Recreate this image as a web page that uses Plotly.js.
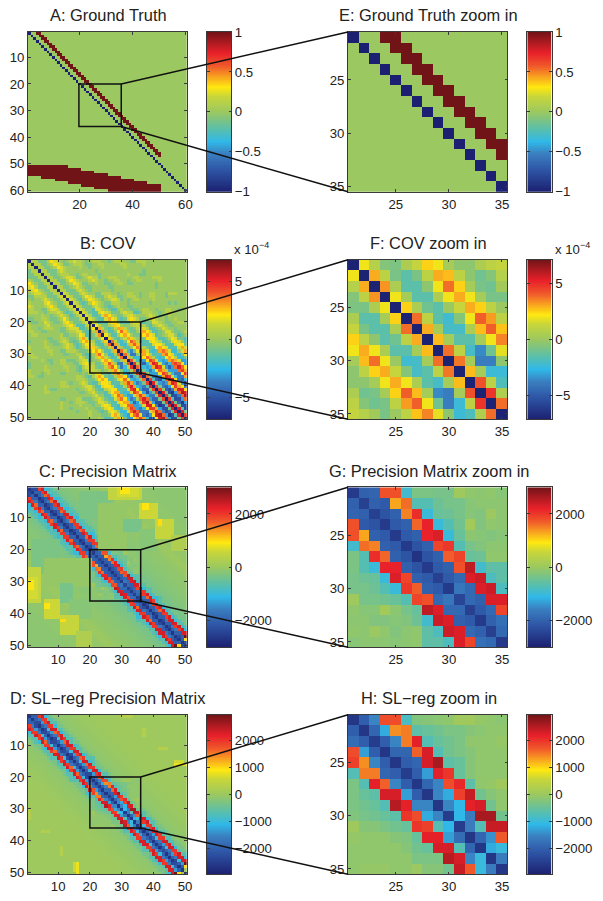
<!DOCTYPE html>
<html><head><meta charset="utf-8">
<script src="https://cdn.plot.ly/plotly-3.0.1.min.js"></script>
<style>html,body{margin:0;padding:0;background:#fff}#g{width:603px;height:901px}.hm image{filter:blur(.5px)}</style>
</head><body><div id="g"></div>
<script>
// ---------- Ground truth (panel A / E) ----------
const gtSize = 60;
const gtBandLastRow = 47;          // upper band: cols row+3 and row+4, up to col 50
const gtBlockColFirst = [1,6,11,16,21,26,31,36,41,46];
const gtBlockColLast  = [5,10,15,20,25,30,35,40,45,50];
const gtBlockRowTop   = [51,51,51,52,53,54,55,56,57,58];
const gtBlockRowBot   = [54,55,56,57,58,59,60,60,60,60];

// ---------- Zoomed windows, rows/cols 21..35 ----------
const covZoom = [ // units of 1e-4
[-7,2,.8,-.5,-.7,.5,1.2,2.5,2,.3,-.3,-.3,.5,1,1.2],
[2,-7,3,1,-.8,-1.5,-.8,1,3,2.8,1,-.3,-1,-.5,.8],
[.8,3,-7,3.3,.5,-1.5,-1.5,-.3,2,3.8,2.5,.3,-.8,-1,.2],
[-.5,1,3.3,-7,2,.3,-1.5,-1.5,.5,2,3,2,.3,-.8,-.8],
[-.7,-.8,.5,2,-7,2.5,.5,-1,-1.5,0,1.3,3,2.5,1,0],
[.5,-1.5,-1.5,.3,2.5,-7,3.8,1,-1.5,-2.2,-.5,2,4,3.2,1],
[1.2,-.8,-1.5,-1.5,.5,3.8,-7,3,.3,-2,-2,.5,2.8,4,2.7],
[2.5,1,-.3,-1.5,-1,1,3,-7,2.8,.3,-1.5,-1.5,.3,2,3.5],
[2,3,2,.5,-1.5,-1.5,.3,2.8,-7,3.8,1,-2,-3.5,-1,1.8],
[.3,2.8,3.8,2,0,-2.2,-2,.3,3.8,-7,3.7,.3,-3.8,-3.8,-.3],
[-.3,1,2.5,3,1.3,-.5,-2,-1.5,1,3.7,-7,2.8,.3,-2.3,-2.3],
[-.3,-.3,.3,2,3,2,.5,-1.5,-2,.3,2.8,-7,4.2,1,-1.8],
[.5,-1,-.8,.3,2.5,4,2.8,.3,-3.5,-3.8,.3,4.2,-7,4.8,.6],
[1,-.5,-1,-.8,1,3.2,4,2,-1,-3.8,-2.3,1,4.8,-7,3.8],
[1.2,.8,.2,-.8,0,1,2.7,3.5,1.8,-.3,-2.3,-1.8,.6,3.8,-7]];
const precZoom = [
[-2600,-2000,-1950,1800,1800,-900,-300,-300,-350,-350,50,-100,-150,-100,-200],
[-2000,-2500,-2000,-2100,1300,1600,-700,-700,-450,-350,-350,-200,-150,-150,-150],
[-1950,-2000,-2500,-2200,-2000,1500,2100,-1000,-500,-450,-350,-200,-250,0,-150],
[1800,-2100,-2200,-2600,-2100,-2000,1650,2200,-1000,-700,-400,100,-250,-100,-150],
[1800,1300,-2000,-2100,-2600,-2100,-2000,2200,2300,-1000,-500,-150,-200,-250,-200],
[-900,1600,1500,-2000,-2100,-2600,-2200,-2000,1900,2000,-700,-350,-250,-150,-150],
[-300,-700,2100,1650,-2000,-2200,-2700,-2200,-2000,1700,1900,-500,-450,-100,-100],
[-300,-700,-1000,2200,2200,-2000,-2200,-2600,-2100,-2000,1800,2500,-900,-600,-600],
[-350,-450,-500,-1000,2300,1900,-2000,-2100,-2500,-2100,-1900,2300,2400,-800,-600],
[-350,-350,-450,-700,-1000,2000,1700,-2000,-2100,-2600,-1700,-1900,2300,2400,-800],
[50,-350,-350,-400,-500,-700,1900,1800,-1900,-1700,-2400,-1900,-2000,2300,2300],
[-100,-200,-200,100,-150,-350,-500,2500,2300,-1900,-1900,-2500,-2100,-1900,1900],
[-150,-150,-250,-250,-200,-250,-450,-900,2400,2300,-2000,-2100,-2600,-2000,-1800],
[-100,-150,0,-100,-250,-150,-100,-600,-800,2400,2300,-1900,-2000,-2500,-1900],
[-200,-150,-150,-150,-200,-150,-100,-600,-600,-800,2300,1900,-1800,-1900,-2600]];
const slZoom = [
[-2600,-2000,-1500,1800,1800,-800,-250,-200,-150,-100,50,50,-50,-100,-150],
[-2000,-2600,-1900,-1200,1400,1500,-600,-500,-400,-300,-300,-200,-150,-100,-100],
[-1800,-2000,-2500,-2000,-1500,1500,2200,-700,-500,-400,-300,-100,-100,-100,-50],
[1800,-1300,-2000,-2600,-1900,-1900,1650,2300,-700,-400,-300,-200,-100,-100,-100],
[1900,1400,-1500,-2000,-2600,-2000,-1900,2300,2600,-600,-500,-200,-100,-100,-100],
[-700,1500,1500,-1900,-2000,-2500,-2000,-1300,2200,2000,-500,-200,-100,-100,-100],
[-300,-700,2200,1650,-1500,-2000,-2600,-1900,-1500,1800,2100,-600,-100,-50,50],
[-300,-500,-600,2300,2300,-1300,-2000,-2600,-1500,-1200,1900,2400,-400,-200,-100],
[-300,-400,-500,-700,2500,2200,-1500,-1500,-2600,-1500,-1100,2200,2300,-400,-100],
[-250,-350,-400,-500,-600,2000,1800,-1200,-1500,-2500,-1100,-1600,2600,2600,-400],
[50,-200,-200,-300,-400,-500,2000,1900,-700,-1100,-2500,-1600,-700,2400,2400],
[-50,-100,-100,-100,-200,-250,-500,2200,2200,-1300,-1800,-2600,-1900,-1400,1700],
[-100,-100,-100,-100,-100,-200,-400,-500,2300,2300,-700,-1900,-2600,-1200,-1000],
[-100,-100,-100,-100,-100,-100,-300,-300,-300,2500,2300,-1500,-1000,-2600,-1600],
[-100,-50,-50,-50,-100,-100,0,-200,-200,-400,2400,1700,-1000,-1600,-2600]];

// ---------- Full 50x50 matrices, upper triangle read diagonal by diagonal ----------
// digit n = +n levels, letter a..i = -1..-9 levels; index in the list = offset from the main diagonal
const covLevelUnit = 0.75;
const covDiagonals = [
"iiiiiiiiii iiiiiiiiii iiiiiiiiii iiiiiiiiii iiiiiiiiii",
"1111111111 2222222222 3443354455 4665665676 676677776",
"1111111111 1111111111 1111001000 0000a0ab0a 0aabaaba",
"aaaaaaaaaa aaaaaaabab aabbbbbbcb cdcccdefde fgggfgg",
"aaaaaaaaaa aabbaabbbb bbbccccccc defdedfgef ghgghg",
"a00a00a00a aa0aabbabb bbbbbbbcbb cdcccddcdd ededd",
"1111111111 1111122222 2233223332 3344334543 4555",
"3332123322 2333223443 3455445654 5677567876 788",
"2221122211 1222112333 3444334443 4566456764 77",
"1110011100 0111001121 0111001121 1222112323 3",
"0a000a0aaa 0a00aaa0ab aaaaabbabb bcdddccede",
"aa00aa0aa0 aaaabbaabb bbbaabbbcb cdefdeefg",
"0000000000 aa0aabaaab aabaabbbbb bccddeec",
"1100111000 1111001121 1233322344 3455534",
"2110122100 1221112232 2344333455 456766",
"1100011000 1121001222 1233323343 34554",
"1000010000 0110001111 1112111222 1233",
"0aa00a0aaa 0aa0aab0ab abbbbbbbcb cdd",
"aa0aa0aaa0 aa0aaab0aa bbbabbbbcc cd",
"0000000000 00a00aa00a 0aa0aabb0a a",
"1000010000 0100001112 1001122223",
"1110011100 1110011222 222233344",
"1100011100 1110011111 11222232",
"0000000000 0000000000 0000a0a",
"0000000a00 0a00000a0a a0abab",
"a00000aa00 a00a0aa0aa aaaab",
"0000000000 0000000a00 0000",
"1000100000 0110001100 001",
"1110011000 1100011011 00",
"1100011000 1000011001 0",
"0000000000 0000000000",
"0000a00000 000a00000",
"a000a000a0 0a000a00",
"a00a000a00 a00a000",
"1000010000 100000",
"1100011000 10000",
"1000010000 1000",
"0000000000 000"];

const precLevelUnit = 333;
const precDiagonals = [
"hhhhhhhhhh hhhhhhhhhh hhhhhhhhhh hhhhhhhhhh hhhhhhhhhh",
"gffgfgfgfg fgfgffgfgf gffgfgfgfg fgffgfgffg fgfgffgfg",
"gfefefefef efefffefef feffefefff efefefefef fefeeff3",
"6657566576 5665756657 6657666676 7566576656 6776679",
"7766776677 6676676677 7776677766 7767767776 777777",
"cbccbccbcc bccbccbccc bccccccbcc bcbcccbccb ccbcc",
"cbbcbbcbbc bbbbcbbbbb bbbbbbbbbb bbbbcbbbbb bbbb",
"bbbbbbbbbb bbbbabbaba aaaaaaaaaa abaabaaaaa aaa"];
const precFarByOffset = [-350,-300,-250,-250,-200,-200,-200,-150,-150,-150,-100,-100,-100,-50,-50,0,0,0,-50,-50,-50,-80,-100,-100,-100,-100,-100,-100,-100,-150,-150,-150,-150,-150,-150,-150,-150,-150,-150,-150,-150,-150];
const precBlockRow0 = [2,6,11,14,1,1,1,1,6,6,11,11,16];
const precBlockRow1 = [10,20,14,20,2,4,3,2,10,7,16,12,20];
const precBlockCol0 = [17,23,31,36,40,26,29,30,36,37,41,42,46];
const precBlockCol1 = [27,31,36,41,50,36,35,32,41,38,46,42,50];
const precBlockVal  = [-300,-60,-350,-200,-150,500,650,900,600,950,550,1000,250];

const slLevelUnit = 328;
const slDiagonals = [
"hhghhghhgh hghhhghhgh hhhghhhghh ghhhghhhgh hhghhhghhh",
"ffgfgffgff gfgfffffgf ffffffffff efffffffff fffffgff",
"fedecdecde ecdecdecde cdecdecdee cedecdedce dcedecd3",
"6666756757 6765756765 7765676667 7676667767 6766779",
"7676767677 6776776777 7777777777 7677677667 776777",
"cbbcbcbbbc bbcbcbbcbc bbbbccbbbb cbcbbcbbbb ccbbc",
"bbbabbbbab babbbaaabb aaaaaaaaaa babbaababb aaab",
"aaaaaaaaaa aaabaaaaaa aaaaaaaaaa aaaaaaaaaa aaa"];
const slFarByOffset = [-150,-100,-100,-80,-50,-50,-30,-30,0,0,0,30,30,30,30,50,50,50,50,50,50,50,50,50,50,50,30,30,30,30,30,30,30,30,30,30,30,30,30,30,30,30];
const slBlockRow0 = [15,16,1,5,11,16,6];
const slBlockRow1 = [16,16,1,7,11,16,6];
const slBlockCol0 = [47,47,30,37,42,47,37];
const slBlockCol1 = [49,50,33,37,44,47,37];
const slBlockVal  = [600,800,300,300,300,800,250];

// ---------- Colour scale ----------
const scaleStops  = [0,.146,.24,.314,.397,.5,.596,.655,.722,.785,.868,.94,1];
const scaleColors = ['#1c2070','#2f58a8','#3a80c0','#30b8e8','#5cbfa8','#9bc860','#c8d63a','#ffe810','#f8a020','#f05a2a','#e8202a','#a81a20','#701418'];

// ---------- Text ----------
const panelTitles = ['A: Ground Truth','E: Ground Truth zoom in','B: COV','F: COV zoom in','C: Precision Matrix','G: Precision Matrix zoom in','D: SL\u2212reg Precision Matrix','H: SL\u2212reg zoom in'];
const barTicksAE = [-1,-.5,0,.5,1];
const barTicksCov = [-5,0,5];
const barTicksPrec = [-2000,0,2000];
const barTicksSl = [-2000,-1000,0,1000,2000];
const bigTicks60y = [10,20,30,40,50,60], bigTicks60x = [20,40,60];
const bigTicks50 = [10,20,30,40,50], zoomTicks = [25,30,35];

// ---------- Build matrices ----------
function groundTruth(){
  const m=[];for(let r=0;r<gtSize;r++)m.push(new Array(gtSize).fill(0));
  for(let i=1;i<=gtSize;i++)m[i-1][i-1]=-1;
  for(let r=1;r<=gtBandLastRow;r++)[r+3,r+4].forEach(c=>{if(c<=50)m[r-1][c-1]=1;});
  gtBlockColFirst.forEach((c0,k)=>{for(let c=c0;c<=gtBlockColLast[k];c++)for(let r=gtBlockRowTop[k];r<=gtBlockRowBot[k];r++)m[r-1][c-1]=1;});
  return m;
}
function lvl(ch,unit){
  if(ch>='0'&&ch<='9')return (+ch)*unit;
  return -(ch.charCodeAt(0)-96)*unit;
}
function fromDiagonals(diags,unit,far,blocks,zoom){
  const n=50,m=[];for(let r=0;r<n;r++)m.push(new Array(n).fill(0));
  for(let d=0;d<n;d++){
    const s=d<diags.length?diags[d].replace(/ /g,''):'';
    for(let r=0;r+d<n;r++){
      let v;
      if(d<diags.length) v=lvl(s[r]||'0',unit);
      else v=far?far[d-diags.length]:0;
      m[r][r+d]=v;m[r+d][r]=v;
    }
  }
  if(blocks)blocks.val.forEach((v,k)=>{
    for(let r=blocks.r0[k];r<=blocks.r1[k];r++)for(let c=blocks.c0[k];c<=blocks.c1[k];c++){m[r-1][c-1]=v;m[c-1][r-1]=v;}
  });
  for(let r=0;r<15;r++)for(let c=0;c<15;c++)m[20+r][20+c]=zoom[r][c];
  return m;
}
const gtFull=groundTruth();
const gtZoom=gtFull.slice(20,35).map(r=>r.slice(20,35));
const covFull=fromDiagonals(covDiagonals,covLevelUnit,null,null,covZoom);
const precFull=fromDiagonals(precDiagonals,precLevelUnit,precFarByOffset,{r0:precBlockRow0,r1:precBlockRow1,c0:precBlockCol0,c1:precBlockCol1,val:precBlockVal},precZoom);
const slFull=fromDiagonals(slDiagonals,slLevelUnit,slFarByOffset,{r0:slBlockRow0,r1:slBlockRow1,c0:slBlockCol0,c1:slBlockCol1,val:slBlockVal},slZoom);

// ---------- Layout ----------
const W=603,H=901;
const leftX=[28,186.7], rightX=[348,507.3];
const barLeftX=[207,231.2], barRightX=[527.3,551.7];
const rowY=[[32,191.7],[259.7,419.3],[487.3,647.3],[714.7,874.3]];
const colorscale=scaleStops.map((s,i)=>[s,scaleColors[i]]);
const axisColor='#3a3a3a', textColor='#222';
const tickFont={family:'Liberation Sans, Arial, sans-serif',size:13.2,color:textColor};
const layout={width:W,height:H,margin:{l:0,r:0,t:0,b:0,autoexpand:false},paper_bgcolor:'#fff',plot_bgcolor:'#fff',showlegend:false,shapes:[],annotations:[]};
const data=[];
let ax=0;
function addAxes(xd,yd,xopt,yopt){
  ax++;
  const xn=ax===1?'xaxis':'xaxis'+ax, yn=ax===1?'yaxis':'yaxis'+ax;
  const xid=ax===1?'x':'x'+ax, yid=ax===1?'y':'y'+ax;
  const base={showgrid:false,zeroline:false,showline:true,linecolor:axisColor,linewidth:1,mirror:'allticks',ticks:'inside',ticklen:2.5,tickcolor:axisColor,tickwidth:1,tickfont:tickFont,fixedrange:true};
  layout[xn]=Object.assign({},base,{domain:[xd[0]/W,xd[1]/W],anchor:yid},xopt);
  layout[yn]=Object.assign({},base,{domain:[1-yd[1]/H,1-yd[0]/H],anchor:xid},yopt);
  return [xid,yid];
}
function seq(a,b){const o=[];for(let v=a;v<=b;v++)o.push(v);return o;}
function panel(xd,yd,z,lo,hi,first,range,xt,yt){
  const [x,y]=addAxes(xd,yd,{range:range,tickmode:'array',tickvals:xt,ticktext:xt.map(String)},{range:[range[1],range[0]],tickmode:'array',tickvals:yt,ticktext:yt.map(String)});
  data.push({type:'heatmap',x:seq(first,first+z.length-1),y:seq(first,first+z.length-1),z:z,zmin:lo,zmax:hi,colorscale:colorscale,showscale:false,xaxis:x,yaxis:y,hoverinfo:'skip'});
}
function bar(xd,yd,lim,ticks){
  const levels=[],N=256;
  for(let i=0;i<N;i++)levels.push(-lim+(2*lim)*(i+.5)/N);
  const [x,y]=addAxes(xd,yd,{range:[0,1],showticklabels:false,ticks:''},{side:'right',range:[-lim,lim],tickmode:'array',tickvals:ticks,ticktext:ticks.map(v=>(v<0?'\u2212':'')+Math.abs(v))});
  data.push({type:'heatmap',x:[0,1],y:levels,z:levels.map(v=>[v]),zmin:-lim,zmax:lim,colorscale:colorscale,showscale:false,xaxis:x,yaxis:y,hoverinfo:'skip',xgap:0,ygap:0});
}
function panelX(xd,range,v){return xd[0]+(v-range[0])/(range[1]-range[0])*(xd[1]-xd[0]);}
function connector(rowIdx,range,boxLo,boxHi,bigAx){
  const yd=rowY[rowIdx];
  const bx=panelX(leftX,range,boxHi), byTop=panelX(yd,range,20), byBot=panelX(yd,range,36);
  const line={color:'#111',width:1.5};
  layout.shapes.push({type:'rect',xref:bigAx[0],yref:bigAx[1],x0:boxLo,x1:boxHi,y0:20,y1:36,line:line,layer:'above'});
  [[byTop,yd[0]],[byBot,yd[1]]].forEach(p=>{
    layout.shapes.push({type:'line',xref:'paper',yref:'paper',x0:bx/W,x1:rightX[0]/W,y0:1-p[0]/H,y1:1-p[1]/H,line:line,layer:'above'});
  });
}
function title(text,xd,y){
  layout.annotations.push({text:text,xref:'paper',yref:'paper',x:(xd[0]+xd[1])/2/W+1/W,y:1-y/H,xanchor:'center',yanchor:'middle',showarrow:false,font:{family:'Liberation Sans, Arial, sans-serif',size:16.4,color:textColor}});
}
const bigCfg=[
 {z:gtFull,zoom:gtZoom,lim:1,limZ:1,ticks:barTicksAE,range:[.5,60.5],xt:bigTicks60x,yt:bigTicks60y,box:[19.75,35.75]},
 {z:covFull,zoom:covZoom,lim:6.9,limZ:7.1,ticks:barTicksCov,range:[.5,50.5],xt:bigTicks50,yt:bigTicks50,box:[20,36]},
 {z:precFull,zoom:precZoom,lim:3000,limZ:3000,ticks:barTicksPrec,range:[.5,50.5],xt:bigTicks50,yt:bigTicks50,box:[20,36]},
 {z:slFull,zoom:slZoom,lim:2950,limZ:2950,ticks:barTicksSl,range:[.5,50.5],xt:bigTicks50,yt:bigTicks50,box:[20,36]}];
const titleY=[15,242.5,470.5,698];
bigCfg.forEach((c,i)=>{
  const yd=rowY[i];
  panel(leftX,yd,c.z,-c.lim,c.lim,1,c.range,c.xt,c.yt);
  const id=ax===1?['x','y']:['x'+ax,'y'+ax];
  bar(barLeftX,yd,c.lim,c.ticks);
  panel(rightX,yd,c.zoom,-c.limZ,c.limZ,21,[20.5,35.5],zoomTicks,zoomTicks);
  bar(barRightX,yd,c.limZ,c.ticks);
  connector(i,c.range,c.box[0],c.box[1],id);
  title(panelTitles[2*i],leftX,titleY[i]);
  title(panelTitles[2*i+1],rightX,titleY[i]);
});
[barLeftX,barRightX].forEach(b=>{
  layout.annotations.push({text:'x 10',xref:'paper',yref:'paper',x:(b[1]+1)/W,y:1-249/H,xanchor:'left',yanchor:'middle',showarrow:false,font:tickFont});
  layout.annotations.push({text:'\u22124',xref:'paper',yref:'paper',x:(b[1]+26)/W,y:1-244.5/H,xanchor:'left',yanchor:'middle',showarrow:false,font:{family:tickFont.family,size:9,color:textColor}});
});
Plotly.newPlot('g',data,layout,{displayModeBar:false,staticPlot:true});
</script></body></html>
